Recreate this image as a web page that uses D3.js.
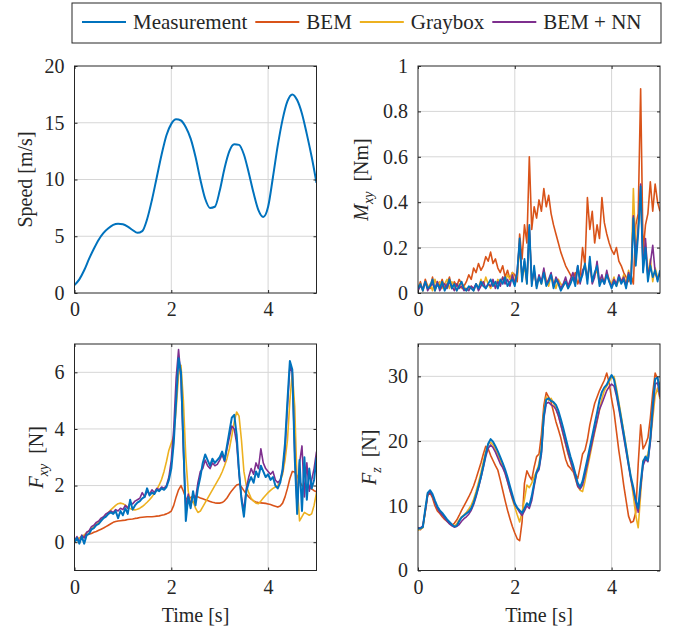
<!DOCTYPE html>
<html>
<head>
<meta charset="utf-8">
<script src="https://cdn.jsdelivr.net/npm/d3@7"></script>
<style>
body{margin:0;background:#fff;}
text{fill:#262626;}
</style>
</head>
<body>
<svg id="chart" width="677" height="631"></svg>
<script>
// series names (legend order)
var seriesNames=["Measurement","BEM","Graybox","BEM + NN"];

// sampling grids [s]
var speedTime=d3.range(0,51).map(function(i){return i*0.1;});
var time=d3.range(0,101).map(function(i){return i*0.05;});

// speed [m/s], every 0.1 s
var speed=[0.7,1.2,2.0,3.0,3.9,4.7,5.3,5.7,6.0,6.1,
  6.05,5.85,5.55,5.3,5.45,6.5,8.2,10.2,12.2,13.9,
  14.9,15.3,15.2,14.6,13.6,12.0,10.0,8.3,7.5,7.6,
  9.0,11.0,12.5,13.1,13.05,12.2,10.6,8.8,7.3,6.7,
  7.6,10.2,13.0,15.3,16.9,17.5,17.0,15.8,14.0,12.0,
  9.7];

// M_xy [Nm], every 0.05 s
var mxyMeas=[0.02,0.04,0.01,0.05,0.02,0.03,0.06,0.01,0.04,0.02,0.05,0.01,0.03,0.06,0.02,0.04,0.01,0.03,0.05,0.02,
  0.01,0.03,0.02,0.01,0.04,0.02,0.05,0.03,0.02,0.04,0.06,0.03,0.05,0.02,0.06,0.04,0.07,0.03,0.05,0.06,
  0.03,0.09,0.24,0.05,0.15,0.04,0.30,0.03,0.12,0.02,0.07,0.04,0.09,0.03,0.05,0.08,0.02,0.06,0.04,0.01,
  0.03,0.05,0.02,0.04,0.07,0.03,0.12,0.05,0.08,0.13,0.04,0.16,0.05,0.09,0.12,0.03,0.06,0.04,0.08,0.05,
  0.02,0.05,0.03,0.07,0.04,0.06,0.02,0.08,0.04,0.33,0.12,0.26,0.47,0.09,0.20,0.05,0.12,0.07,0.10,0.05,
  0.10];
var mxyBem=[0.02,0.05,0.01,0.06,0.03,0.02,0.07,0.01,0.05,0.03,0.06,0.02,0.04,0.07,0.02,0.05,0.03,0.06,0.04,0.03,
  0.05,0.08,0.06,0.11,0.09,0.13,0.10,0.12,0.16,0.14,0.18,0.13,0.15,0.11,0.09,0.12,0.07,0.10,0.06,0.09,
  0.08,0.05,0.26,0.15,0.30,0.22,0.60,0.28,0.38,0.33,0.41,0.36,0.46,0.38,0.43,0.35,0.30,0.26,0.22,0.18,
  0.15,0.12,0.10,0.08,0.06,0.09,0.04,0.07,0.20,0.12,0.42,0.28,0.36,0.22,0.30,0.24,0.42,0.31,0.26,0.22,
  0.19,0.17,0.20,0.14,0.12,0.09,0.07,0.05,0.08,0.04,0.30,0.35,0.90,0.18,0.30,0.35,0.49,0.36,0.48,0.40,
  0.36];
var mxyGray=[0.02,0.04,0.01,0.05,0.02,0.04,0.01,0.06,0.03,0.05,0.02,0.04,0.06,0.02,0.05,0.03,0.01,0.04,0.02,0.03,
  0.01,0.02,0.03,0.01,0.04,0.02,0.06,0.03,0.07,0.04,0.02,0.05,0.03,0.06,0.04,0.07,0.05,0.08,0.06,0.09,
  0.05,0.08,0.20,0.06,0.12,0.04,0.28,0.05,0.09,0.03,0.07,0.04,0.10,0.06,0.03,0.08,0.05,0.02,0.06,0.04,
  0.03,0.06,0.02,0.05,0.08,0.04,0.11,0.06,0.09,0.13,0.07,0.12,0.05,0.08,0.10,0.04,0.07,0.05,0.09,0.06,
  0.04,0.07,0.03,0.06,0.05,0.08,0.04,0.10,0.06,0.46,0.18,0.30,0.44,0.12,0.22,0.08,0.15,0.05,0.11,0.07,
  0.08];
var mxyNn=[0.01,0.03,0.02,0.05,0.01,0.03,0.04,0.02,0.05,0.01,0.03,0.04,0.02,0.05,0.03,0.01,0.04,0.02,0.03,0.01,
  0.02,0.01,0.03,0.02,0.04,0.01,0.03,0.05,0.02,0.04,0.03,0.06,0.02,0.05,0.03,0.07,0.04,0.06,0.03,0.08,
  0.04,0.10,0.22,0.07,0.14,0.05,0.29,0.04,0.10,0.03,0.08,0.05,0.11,0.04,0.06,0.09,0.03,0.07,0.05,0.02,
  0.04,0.07,0.03,0.06,0.09,0.05,0.12,0.04,0.10,0.12,0.06,0.14,0.04,0.07,0.14,0.05,0.08,0.04,0.10,0.05,
  0.03,0.06,0.04,0.08,0.05,0.07,0.03,0.09,0.05,0.34,0.15,0.28,0.48,0.10,0.24,0.07,0.13,0.21,0.09,0.06,
  0.09];

// F_xy [N], every 0.05 s
var fxyMeas=[0.00,0.15,-0.05,0.20,-0.05,0.25,0.30,0.45,0.50,0.60,0.65,0.75,0.85,0.90,1.00,1.05,1.00,1.10,0.85,1.10,
  0.95,1.20,1.00,1.50,1.15,1.30,1.40,1.45,1.55,1.60,1.90,1.65,1.75,1.70,1.85,1.80,1.90,1.85,1.95,2.20,
  2.60,3.50,5.00,6.50,6.00,3.50,0.75,1.60,1.20,1.80,1.30,1.90,2.30,2.80,3.10,2.90,2.70,2.95,2.80,2.90,
  3.00,3.20,2.90,3.40,3.90,4.40,4.50,3.80,2.50,1.50,0.90,1.80,2.10,2.30,2.10,2.50,2.30,2.70,2.50,2.30,
  2.40,2.20,2.30,2.00,1.90,2.10,2.60,3.50,5.00,6.40,6.10,3.00,1.00,2.90,1.10,3.00,1.50,2.60,1.90,2.20,
  3.00];
var fxyBem=[0.05,0.10,0.15,0.19,0.22,0.25,0.28,0.31,0.35,0.38,0.42,0.46,0.50,0.55,0.60,0.65,0.70,0.73,0.75,0.76,
  0.77,0.78,0.80,0.81,0.82,0.84,0.85,0.87,0.88,0.89,0.90,0.90,0.90,0.91,0.92,0.93,0.95,0.97,1.00,1.04,
  1.10,1.30,1.60,1.85,2.00,1.80,1.55,1.50,1.58,1.62,1.62,1.60,1.56,1.53,1.50,1.47,1.44,1.41,1.39,1.38,
  1.38,1.40,1.46,1.56,1.70,1.82,1.92,2.02,2.05,1.95,1.82,1.70,1.60,1.52,1.46,1.42,1.40,1.39,1.38,1.37,
  1.35,1.33,1.30,1.27,1.24,1.28,1.38,1.60,1.90,2.25,2.50,2.48,2.35,2.15,2.00,1.96,1.95,1.92,1.88,1.82,
  1.78];
var fxyGray=[0.00,0.08,0.14,0.20,0.26,0.33,0.40,0.47,0.55,0.63,0.71,0.79,0.87,0.96,1.05,1.14,1.22,1.30,1.36,1.38,
  1.36,1.31,1.25,1.19,1.15,1.14,1.16,1.20,1.26,1.33,1.41,1.50,1.60,1.72,1.86,2.02,2.22,2.50,2.85,3.25,
  3.50,3.75,4.70,5.90,6.25,5.00,3.00,1.80,1.35,1.45,1.20,1.05,1.10,1.25,1.40,1.55,1.70,1.85,2.00,2.15,
  2.30,2.48,2.70,2.95,3.30,3.75,4.25,4.60,4.45,3.60,2.50,2.00,1.75,1.55,1.45,1.38,1.36,1.45,1.56,1.66,
  1.75,1.83,1.90,1.95,2.00,2.15,2.40,2.90,3.60,5.00,6.00,4.80,2.00,0.75,0.90,1.05,1.00,0.95,1.00,1.30,
  1.75];
var fxyNn=[0.05,0.20,0.00,0.25,0.15,0.35,0.40,0.55,0.60,0.70,0.75,0.85,0.90,1.00,1.05,1.10,1.05,1.15,1.10,1.20,
  1.15,1.30,1.20,1.40,1.35,1.45,1.50,1.55,1.75,1.60,1.80,1.70,1.85,1.75,1.90,1.85,1.95,1.90,2.00,2.30,
  2.90,4.00,5.80,6.80,5.80,3.20,1.20,1.70,1.30,1.70,1.50,2.10,2.50,2.60,2.90,2.70,2.60,2.80,2.70,2.75,
  2.90,3.10,2.85,3.30,3.70,4.10,4.00,3.50,2.40,1.60,1.10,1.90,2.30,2.60,2.40,2.80,2.60,3.30,2.80,2.60,
  2.50,2.40,2.50,2.20,2.10,2.20,2.50,3.30,4.80,6.20,6.00,3.20,1.20,2.80,3.40,1.60,2.80,1.80,2.20,2.60,
  3.20];

// F_z [N], every 0.05 s
var fzMeas=[6.5,6.5,6.7,9.5,12.0,12.4,11.8,10.8,9.9,9.3,8.9,8.4,7.9,7.5,7.1,6.8,6.9,7.6,8.2,8.5,
  8.8,9.1,9.6,10.5,11.7,13.0,14.5,16.2,18.0,19.6,20.3,19.9,19.2,18.4,17.5,16.6,15.6,14.4,13.0,11.7,
  10.4,9.7,9.3,8.9,9.6,10.4,10.0,11.5,13.5,15.2,16.0,18.5,24.0,26.4,26.6,26.2,26.0,25.6,24.7,23.4,
  22.0,20.5,19.0,17.6,16.4,15.0,13.5,12.9,13.8,15.5,17.2,19.0,20.8,22.6,24.4,26.3,27.6,28.3,28.7,29.5,
  30.2,29.5,27.6,25.5,23.4,21.2,18.9,16.5,14.4,12.8,10.8,9.6,13.5,16.8,17.6,17.0,20.5,25.5,29.6,29.8,
  27.4];
var fzBem=[6.6,6.3,6.8,9.0,11.6,12.0,11.2,10.0,9.2,8.8,8.3,7.9,7.6,7.3,7.0,7.3,7.8,8.5,9.3,10.0,
  10.7,11.4,12.2,13.1,14.2,15.4,16.6,18.0,19.2,18.8,17.8,17.0,16.2,15.5,14.0,12.4,10.8,9.3,8.0,6.8,
  5.8,4.9,4.6,7.5,13.5,15.4,14.6,14.0,16.0,17.6,18.0,21.0,25.5,27.5,26.8,26.0,24.5,23.0,21.8,20.5,
  18.8,17.2,16.2,15.8,15.3,14.9,14.2,16.0,18.0,18.6,20.2,22.5,24.2,25.8,26.8,27.8,28.6,29.4,30.5,29.0,
  26.5,24.5,21.5,18.5,16.0,13.2,10.8,8.4,7.4,7.6,9.0,16.5,22.5,18.8,19.5,20.5,23.5,27.5,30.5,29.6,
  28.6];
var fzGray=[6.2,6.4,6.6,9.3,11.9,12.3,11.6,10.6,9.7,9.1,8.7,8.2,7.7,7.3,7.0,6.9,7.2,7.8,8.3,8.6,
  9.0,9.5,10.1,11.0,12.2,13.6,15.1,16.8,18.4,19.5,19.8,19.4,18.7,17.9,17.0,16.1,15.1,13.8,12.4,11.0,
  9.8,8.6,7.5,9.0,11.0,13.2,12.8,13.5,14.5,15.3,16.5,19.0,24.5,26.8,26.3,26.6,25.9,25.0,24.0,22.6,
  21.0,19.5,18.0,16.8,15.5,14.2,13.0,12.4,12.2,13.8,15.8,17.6,19.5,21.3,23.0,24.8,26.5,27.8,28.5,29.2,
  29.8,30.0,28.2,26.0,23.8,21.5,19.2,16.8,14.2,11.5,8.5,6.6,11.8,17.0,17.3,18.0,20.0,23.5,27.0,28.2,
  26.5];
var fzNn=[6.6,6.6,6.9,9.2,11.7,12.1,11.5,10.5,9.6,9.0,8.6,8.1,7.6,7.2,6.9,6.7,6.8,7.1,7.6,8.0,
  8.3,8.7,9.3,10.2,11.4,12.8,14.3,15.9,17.6,18.9,19.4,19.0,18.3,17.4,16.5,15.9,15.0,13.7,12.4,11.2,
  10.2,9.6,9.0,8.5,9.2,10.0,9.6,10.8,13.0,15.0,15.6,18.0,23.5,25.8,26.0,25.6,25.4,24.9,23.9,22.5,
  21.1,19.6,18.2,16.9,15.7,14.4,13.0,12.6,13.2,14.8,16.4,18.2,19.9,21.6,23.2,24.9,25.8,26.8,27.8,28.4,
  28.8,28.5,27.0,25.0,22.8,20.6,18.4,16.2,14.0,12.4,10.5,9.0,12.8,16.2,17.2,16.8,19.8,24.6,28.8,29.0,
  26.8];

var xTicks=[0,2,4];
var speedTicks=[0,5,10,15,20];
var mxyTicks=[0,0.2,0.4,0.6,0.8,1];
var fxyTicks=[0,2,4,6];
var fzTicks=[0,10,20,30];

var serif="'Liberation Serif','Times New Roman',serif";
var colors={"Measurement":"#0072BD","BEM":"#D95319","Graybox":"#EDB120","BEM + NN":"#7E2F8E"};
var svg=d3.select("#chart").style("font-family",serif);

function panel(o){
  var x=d3.scaleLinear().domain([0,5]).range([o.left,o.right]);
  var y=d3.scaleLinear().domain(o.yDomain).range([o.bottom,o.top]);
  var g=svg.append("g");
  // grid
  g.selectAll(".gx").data(xTicks.filter(function(d){return d>0;})).enter().append("line")
   .attr("x1",function(d){return x(d);}).attr("x2",function(d){return x(d);})
   .attr("y1",o.top).attr("y2",o.bottom)
   .style("stroke","#d6d6d6").style("stroke-width",1);
  g.selectAll(".gy").data(o.yTicks.filter(function(d){return d>o.yDomain[0]&&d<o.yDomain[1];})).enter().append("line")
   .attr("x1",o.left).attr("x2",o.right)
   .attr("y1",function(d){return y(d);}).attr("y2",function(d){return y(d);})
   .style("stroke","#d6d6d6").style("stroke-width",1);
  // lines
  svg.append("clipPath").attr("id","clip"+o.id)
     .append("rect").attr("x",o.left).attr("y",o.top)
     .attr("width",o.right-o.left).attr("height",o.bottom-o.top);
  var lines=g.append("g").attr("clip-path","url(#clip"+o.id+")");
  o.series.forEach(function(s){
    var line=d3.line()
      .x(function(d,i){return x(s.t[i]);})
      .y(function(d){return y(d);});
    if(s.smooth) line.curve(d3.curveMonotoneX);
    lines.append("path").datum(s.v)
      .attr("d",line)
      .style("fill","none")
      .style("stroke",colors[s.name])
      .style("stroke-width",s.w||1.6)
      .style("stroke-linejoin","round");
  });
  // axes
  var ax=g.append("g").attr("transform","translate(0,"+o.bottom+")")
    .call(d3.axisBottom(x).tickValues(xTicks).tickSize(-3).tickSizeOuter(0).tickPadding(9).tickFormat(d3.format("d")));
  var ay=g.append("g").attr("transform","translate("+o.left+",0)")
    .call(d3.axisLeft(y).tickValues(o.yTicks).tickSize(-3).tickSizeOuter(0).tickPadding(10).tickFormat(d3.format("~g")));
  g.append("g").attr("transform","translate(0,"+o.top+")")
    .call(d3.axisTop(x).tickValues(xTicks).tickSize(-3).tickSizeOuter(0).tickFormat(""));
  g.append("g").attr("transform","translate("+o.right+",0)")
    .call(d3.axisRight(y).tickValues(o.yTicks).tickSize(-3).tickSizeOuter(0).tickFormat(""));
  g.selectAll(".domain").remove();
  g.selectAll(".tick line").style("stroke","#262626");
  [ax,ay].forEach(function(a){
    a.attr("font-family",serif).attr("font-size",20);
    a.selectAll("text").style("font-family",serif).style("font-size","20px").style("fill","#262626");
  });
  g.append("rect").attr("x",o.left).attr("y",o.top)
   .attr("width",o.right-o.left).attr("height",o.bottom-o.top)
   .style("fill","none").style("stroke","#262626").style("stroke-width",1);
  // y label
  var yl=g.append("text")
   .attr("transform","translate("+o.ylx+","+((o.top+o.bottom)/2)+") rotate(-90)")
   .attr("text-anchor","middle")
   .style("font-family",serif)
   .style("font-size","20px");
  o.ylabel(yl);
  if(o.xlabel){
    g.append("text").attr("x",(o.left+o.right)/2).attr("y",o.bottom+51)
     .attr("text-anchor","middle").style("font-family",serif).style("font-size","20px").text("Time [s]");
  }
}

function subLabel(main,sub,unit){
  return function(t){
    t.append("tspan").style("font-style","italic").text(main);
    t.append("tspan").style("font-style","italic").style("font-size","14px").attr("dy",5).text(sub);
    t.append("tspan").attr("dy",-5).text("\u00a0\u00a0"+unit);
  };
}

panel({id:1,left:74.5,right:316.5,top:66,bottom:293,yDomain:[0,20],yTicks:speedTicks,ylx:32,
  ylabel:function(t){t.text("Speed [m/s]");},
  series:[{name:"Measurement",t:speedTime,v:speed,smooth:true,w:2}]});
panel({id:2,left:418,right:660,top:66,bottom:293,yDomain:[0,1],yTicks:mxyTicks,ylx:368,
  ylabel:subLabel("M","xy","[Nm]"),
  series:[{name:"BEM",t:time,v:mxyBem},{name:"Graybox",t:time,v:mxyGray},
          {name:"BEM + NN",t:time,v:mxyNn},{name:"Measurement",t:time,v:mxyMeas,w:1.8}]});
panel({id:3,left:74.5,right:316.5,top:344,bottom:570.5,yDomain:[-1,7],yTicks:fxyTicks,ylx:43,xlabel:true,
  ylabel:subLabel("F","xy","[N]"),
  series:[{name:"BEM",t:time,v:fxyBem},{name:"Graybox",t:time,v:fxyGray},
          {name:"BEM + NN",t:time,v:fxyNn},{name:"Measurement",t:time,v:fxyMeas,w:2}]});
panel({id:4,left:418,right:660,top:344,bottom:570.5,yDomain:[0,35],yTicks:fzTicks,ylx:376,xlabel:true,
  ylabel:subLabel("F","z","[N]"),
  series:[{name:"BEM",t:time,v:fzBem},{name:"Graybox",t:time,v:fzGray},
          {name:"BEM + NN",t:time,v:fzNn},{name:"Measurement",t:time,v:fzMeas,w:2}]});

// legend
var leg=svg.append("g");
leg.append("rect").attr("x",72).attr("y",3).attr("width",589).attr("height",40)
   .style("fill","#fff").style("stroke","#262626").style("stroke-width",1);
var lx=82;
seriesNames.forEach(function(n){
  leg.append("line").attr("x1",lx).attr("x2",lx+44).attr("y1",22).attr("y2",22)
     .style("stroke",colors[n]).style("stroke-width",2);
  var t=leg.append("text").attr("x",lx+51).attr("y",29)
     .style("font-family",serif).style("font-size","21px").text(n);
  lx+=51+t.node().getComputedTextLength()+8;
});
</script>
</body>
</html>
